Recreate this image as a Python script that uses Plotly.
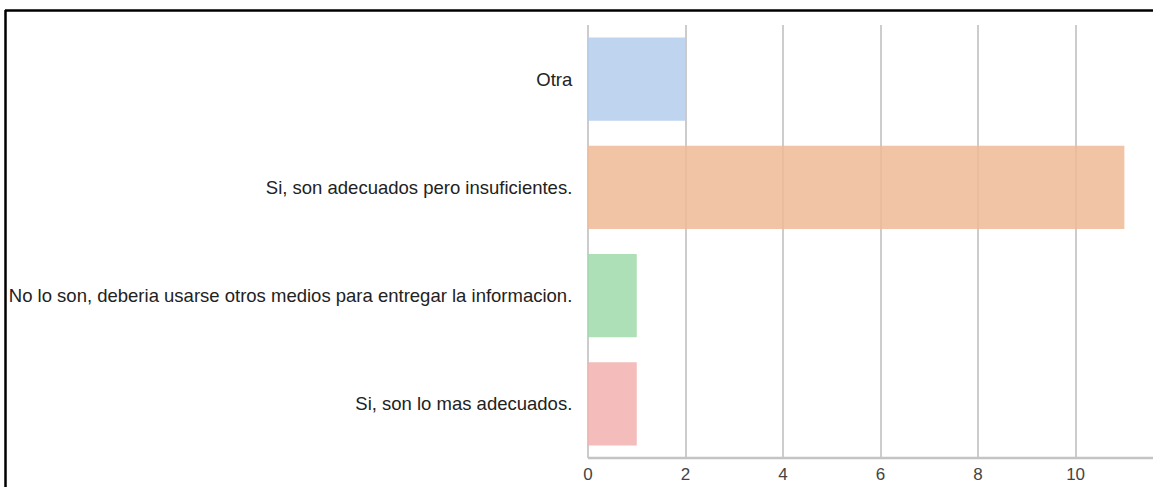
import plotly.graph_objects as go

categories = [
    "Otra",
    "Si, son adecuados pero insuficientes.",
    "No lo son, deberia usarse otros medios para entregar la informacion.",
    "Si, son lo mas adecuados.",
]
values = [2, 11, 1, 1]
colors = [
    "rgba(180,205,236,0.85)",
    "rgba(237,186,149,0.85)",
    "rgba(159,218,170,0.85)",
    "rgba(242,176,174,0.85)",
]
x_ticks = [0, 2, 4, 6, 8, 10]

W, H = 1153, 487
L, R, T, B = 588, 14, 25, 29

fig = go.Figure()
fig.add_trace(go.Bar(
    y=categories, x=values, orientation="h",
    marker=dict(color=colors, line=dict(width=0)),
    width=0.77, showlegend=False,
))

pw = W - L - R
ph = H - T - B
def px_x(px):
    return (px - L) / pw
def px_y(py):
    return (H - B - py) / ph

fig.update_layout(
    width=W, height=H,
    margin=dict(l=L, r=R, t=T, b=B, pad=0, autoexpand=False),
    paper_bgcolor="white", plot_bgcolor="white",
    font=dict(family="Liberation Sans, Arial, sans-serif", size=18, color="#222222"),
    xaxis=dict(
        range=[0, 11.3], tickvals=x_ticks, showgrid=True, automargin=False,
        gridcolor="#cccccc", gridwidth=1.5,
        zeroline=True, zerolinecolor="#cccccc", zerolinewidth=1.5,
        showline=False, ticks="outside", ticklen=1, tickcolor="white",
        tickfont=dict(size=17, color="#444444"),
    ),
    yaxis=dict(
        autorange="reversed", showgrid=False, zeroline=False, automargin=False,
        ticks="outside", ticklen=11, tickcolor="white",
        tickfont=dict(size=18.5, color="#222222"),
    ),
    shapes=[
        dict(type="line", xref="paper", yref="paper",
             x0=0, x1=px_x(W + 5), y0=0, y1=0,
             line=dict(color="#c4c4c4", width=2.5)),
        dict(type="line", xref="paper", yref="paper",
             x0=px_x(5), x1=px_x(W + 5), y0=px_y(10.5), y1=px_y(10.5),
             line=dict(color="black", width=2.5)),
        dict(type="line", xref="paper", yref="paper",
             x0=px_x(5.5), x1=px_x(5.5), y0=px_y(10), y1=px_y(H + 5),
             line=dict(color="black", width=2.5)),
    ],
)

fig.write_html(
    "out.html",
    config={"displayModeBar": False},
    post_script="document.body.style.margin='0';document.body.style.overflow='hidden';",
)
